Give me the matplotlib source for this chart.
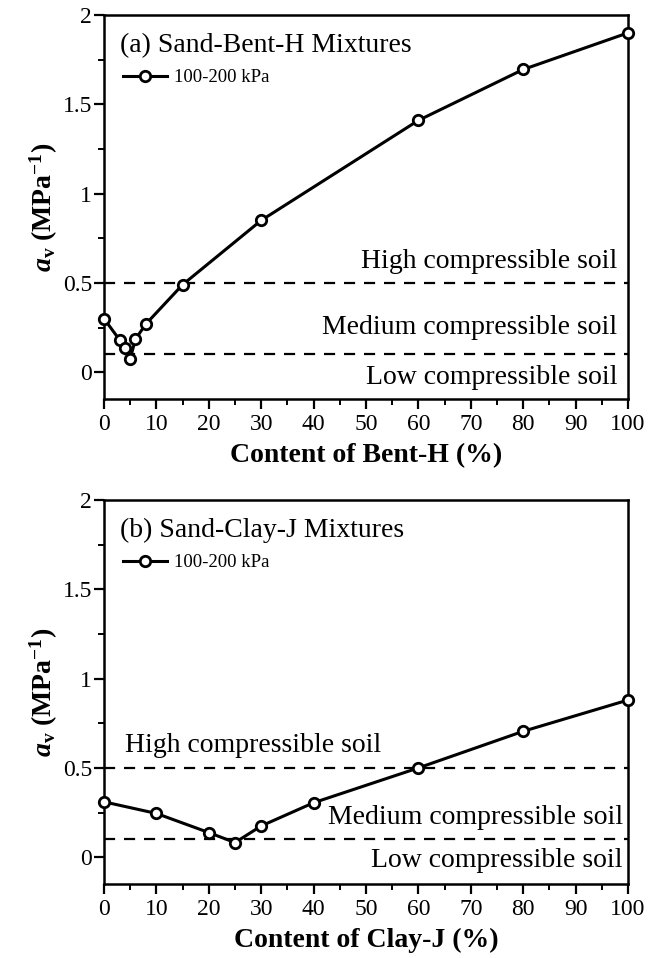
import matplotlib
matplotlib.use("Agg")
import matplotlib.pyplot as plt
from matplotlib.ticker import MultipleLocator

plt.rcParams["font.family"] = ["Liberation Serif", "DejaVu Serif"]
plt.rcParams["mathtext.fontset"] = "custom"
plt.rcParams["mathtext.rm"] = "Liberation Serif"
plt.rcParams["mathtext.bf"] = "Liberation Serif:bold"
plt.rcParams["mathtext.it"] = "Liberation Serif:italic"
plt.rcParams["mathtext.bfit"] = "Liberation Serif:bold:italic"

# (a) Sand-Bent-H mixtures
bent_content = [0, 3, 4, 5, 6, 8, 15, 30, 60, 80, 100]
bent_av = [0.30, 0.18, 0.135, 0.075, 0.185, 0.27, 0.49, 0.85, 1.41, 1.695, 1.90]

# (b) Sand-Clay-J mixtures
clay_content = [0, 10, 20, 25, 30, 40, 60, 80, 100]
clay_av = [0.31, 0.245, 0.138, 0.082, 0.175, 0.305, 0.50, 0.705, 0.88]

high_limit = 0.5
low_limit = 0.1
series_label = "100-200 kPa"

fig = plt.figure(figsize=(6.59, 9.58), dpi=100)
W, H = 659, 958


def panel(rect_px, x, y, title, xlabel, label_pos):
    l, t, r, b = rect_px
    ax = fig.add_axes([l / W, 1 - b / H, (r - l) / W, (b - t) / H])
    ax.axhline(high_limit, color="black", ls=(0, (5, 4)), lw=1.6, zorder=1)
    ax.axhline(low_limit, color="black", ls=(0, (5, 4)), lw=1.6, zorder=1)
    ax.plot(x, y, color="black", lw=2.2, marker="o", ms=7.5, mfc="white",
            mec="black", mew=2.0, label=series_label, zorder=3, clip_on=False)
    ax.set_xlim(0, 100)
    ax.set_ylim(-0.15, 2)
    ax.xaxis.set_major_locator(MultipleLocator(10))
    ax.xaxis.set_minor_locator(MultipleLocator(5))
    ax.yaxis.set_minor_locator(MultipleLocator(0.25))
    ax.set_yticks([0, 0.5, 1, 1.5, 2])
    ax.set_yticklabels(["0", "0.5", "1", "1.5", "2"])
    ax.tick_params(which="major", direction="out", length=7.5, width=1.6,
                   labelsize=17, pad=1)
    ax.tick_params(axis="x", which="major", pad=3)
    ax.tick_params(which="minor", direction="out", length=4.5, width=1.4)
    for s in ax.spines.values():
        s.set_linewidth(1.8)
    ax.text(0.03, 0.92, title, transform=ax.transAxes, fontsize=20,
            va="center", ha="left")
    ax.legend(loc="upper left", bbox_to_anchor=(0.012, 0.893),
              frameon=False, fontsize=13.5, handlelength=2.3,
              handletextpad=0.4, borderaxespad=0.3)
    ax.set_xlabel(xlabel, fontsize=20, fontweight="bold", labelpad=6)
    ax.set_ylabel(r"$\boldsymbol{a}_{\mathbf{v}}$ $\mathbf{(MPa^{-1})}$",
                  fontsize=20, labelpad=2)
    for txt, xx, yy, ha in label_pos:
        ax.text(xx, yy, txt, fontsize=20, ha=ha, va="center")
    return ax


panel((104, 15, 628, 399), bent_content, bent_av,
      "(a) Sand-Bent-H Mixtures", "Content of Bent-H (%)",
      [("High compressible soil", 98, 0.62, "right"),
       ("Medium compressible soil", 98, 0.25, "right"),
       ("Low compressible soil", 98, -0.03, "right")])

panel((104, 500, 628, 884), clay_content, clay_av,
      "(b) Sand-Clay-J Mixtures", "Content of Clay-J (%)",
      [("High compressible soil", 4, 0.625, "left"),
       ("Medium compressible soil", 99, 0.225, "right"),
       ("Low compressible soil", 99, -0.02, "right")])

fig.savefig("out.png", dpi=100)
